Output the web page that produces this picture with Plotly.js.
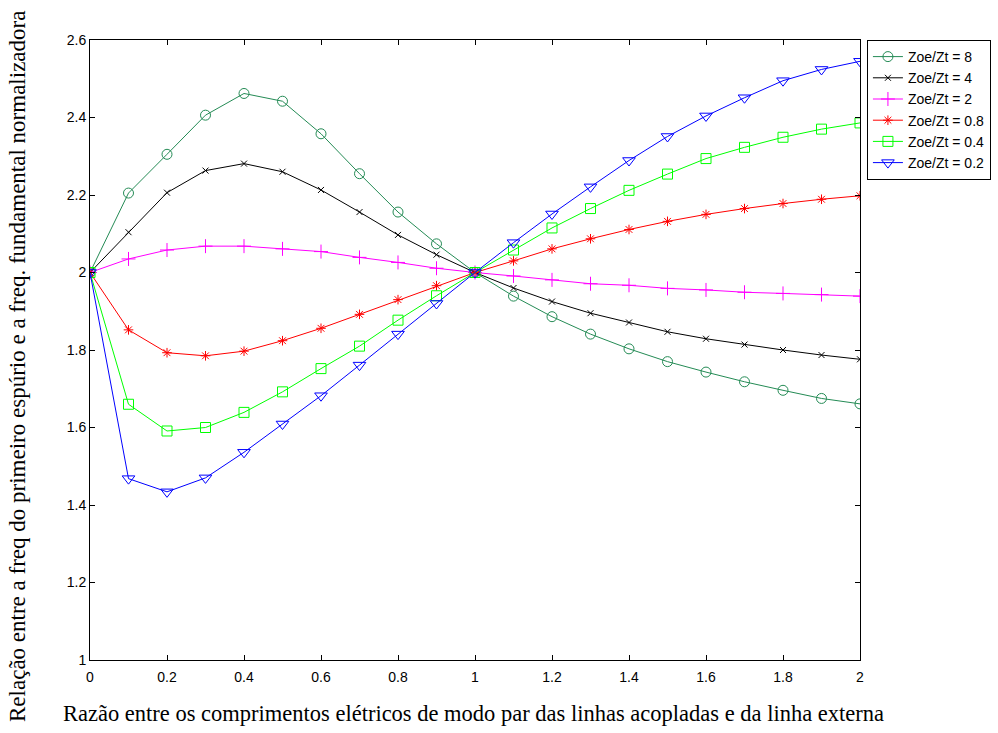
<!DOCTYPE html>
<html>
<head>
<meta charset="utf-8">
<script src="https://cdn.plot.ly/plotly-3.0.1.min.js"></script>
<style>
  html, body { margin: 0; padding: 0; background: #fff; }
  #chart { width: 998px; height: 733px; }
</style>
</head>
<body>
<div id="chart"></div>
<script>
// Electrical length ratio (even mode of coupled lines / external line)
const ratio = [0, 0.1, 0.2, 0.3, 0.4, 0.5, 0.6, 0.7, 0.8, 0.9, 1.0,
               1.1, 1.2, 1.3, 1.4, 1.5, 1.6, 1.7, 1.8, 1.9, 2.0];

// Spurious / fundamental frequency ratio for each Zoe/Zt
const zoe8  = [2.000, 2.205, 2.305, 2.406, 2.462, 2.442, 2.358, 2.255, 2.156, 2.074, 2.000,
               1.939, 1.886, 1.841, 1.803, 1.770, 1.743, 1.718, 1.696, 1.675, 1.661];
const zoe4  = [2.000, 2.104, 2.206, 2.263, 2.281, 2.260, 2.213, 2.156, 2.097, 2.046, 2.000,
               1.960, 1.925, 1.895, 1.871, 1.847, 1.829, 1.814, 1.800, 1.787, 1.776];
const zoe2  = [2.000, 2.035, 2.058, 2.068, 2.068, 2.061, 2.054, 2.039, 2.026, 2.011, 2.000,
               1.991, 1.981, 1.971, 1.967, 1.959, 1.955, 1.949, 1.946, 1.943, 1.939];
const zoe08 = [2.000, 1.852, 1.793, 1.785, 1.797, 1.824, 1.856, 1.892, 1.930, 1.966, 2.000,
               2.030, 2.061, 2.087, 2.111, 2.132, 2.150, 2.165, 2.178, 2.189, 2.198];
const zoe04 = [2.000, 1.660, 1.591, 1.600, 1.639, 1.692, 1.752, 1.810, 1.877, 1.940, 2.000,
               2.058, 2.115, 2.165, 2.212, 2.254, 2.294, 2.323, 2.349, 2.370, 2.386];
const zoe02 = [2.000, 1.468, 1.434, 1.470, 1.536, 1.609, 1.682, 1.761, 1.841, 1.920, 2.000,
               2.077, 2.151, 2.221, 2.289, 2.351, 2.404, 2.451, 2.495, 2.524, 2.545];

const seriesNames = ['Zoe/Zt = 8', 'Zoe/Zt = 4', 'Zoe/Zt = 2',
                     'Zoe/Zt = 0.8', 'Zoe/Zt = 0.4', 'Zoe/Zt = 0.2'];

const xTicks = [0, 0.2, 0.4, 0.6, 0.8, 1, 1.2, 1.4, 1.6, 1.8, 2];
const yTicks = [1, 1.2, 1.4, 1.6, 1.8, 2, 2.2, 2.4, 2.6];

const xTitle = 'Razão entre os comprimentos elétricos de modo par das linhas acopladas e da linha externa';
const yTitle = 'Relação entre a freq do primeiro espúrio e a freq. fundamental normalizadora';

const styles = [
  { color: '#248b55', symbol: 'circle-open',          size: 10 },
  { color: '#000000', symbol: 'x-thin-open',          size: 6  },
  { color: '#ff00ff', symbol: 'cross-thin-open',      size: 10 },
  { color: '#ff0000', symbol: 'asterisk-open',        size: 8  },
  { color: '#00ff00', symbol: 'square-open',          size: 10 },
  { color: '#0000ff', symbol: 'triangle-down-open',   size: 11 }
];

const values = [zoe8, zoe4, zoe2, zoe08, zoe04, zoe02];

const traces = values.map((y, i) => ({
  x: ratio,
  y: y,
  name: seriesNames[i],
  type: 'scatter',
  mode: 'lines+markers',
  line: { color: styles[i].color, width: 1 },
  marker: {
    symbol: styles[i].symbol,
    size: styles[i].size,
    color: styles[i].color,
    line: { color: styles[i].color, width: 1 }
  }
}));

const axisCommon = {
  showgrid: false,
  zeroline: false,
  showline: true,
  linecolor: '#000',
  linewidth: 1,
  mirror: 'ticks',
  ticks: 'inside',
  ticklen: 5,
  tickcolor: '#000',
  automargin: false,
  tickfont: { family: 'Liberation Sans, Arial, sans-serif', size: 14, color: '#000' }
};

const layout = {
  width: 998,
  height: 733,
  margin: { l: 90, r: 138, t: 40, b: 73, autoexpand: false },
  paper_bgcolor: '#fff',
  plot_bgcolor: '#fff',
  showlegend: true,
  legend: {
    x: 1.009, y: 1.0, xanchor: 'left', yanchor: 'top',
    bgcolor: '#fff',
    bordercolor: '#000',
    borderwidth: 1,
    font: { family: 'Liberation Sans, Arial, sans-serif', size: 14, color: '#000' },
    tracegroupgap: 0
  },
  xaxis: Object.assign({}, axisCommon, {
    range: [0, 2],
    tickvals: xTicks,
    ticktext: xTicks.map(String),
    ticklabelstandoff: 4
  }),
  yaxis: Object.assign({}, axisCommon, {
    range: [1, 2.6],
    tickvals: yTicks,
    ticktext: yTicks.map(String)
  }),
  annotations: [
    {
      text: xTitle, xref: 'paper', yref: 'paper',
      x: 0.498, y: -0.087, xanchor: 'center', yanchor: 'middle',
      showarrow: false,
      font: { family: 'Liberation Serif, Times New Roman, serif', size: 22.5, color: '#000' }
    },
    {
      text: yTitle, xref: 'paper', yref: 'paper',
      x: -0.095, y: 0.474, xanchor: 'center', yanchor: 'middle',
      textangle: -90, showarrow: false,
      font: { family: 'Liberation Serif, Times New Roman, serif', size: 23, color: '#000' }
    }
  ]
};

Plotly.newPlot('chart', traces, layout, { displayModeBar: false, staticPlot: true });
</script>
</body>
</html>
